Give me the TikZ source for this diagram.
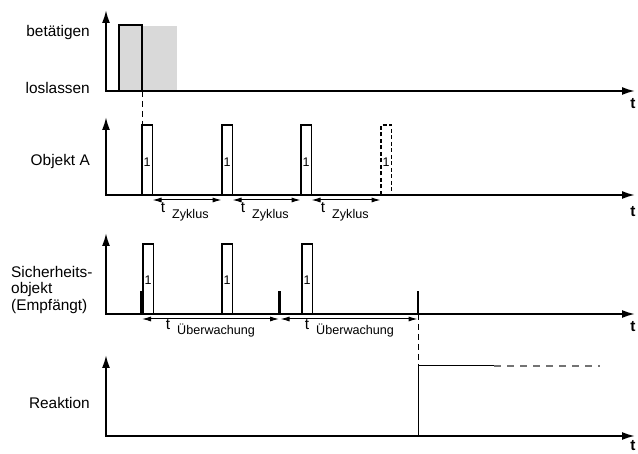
\documentclass[tikz,border=0pt]{standalone}
\usepackage{fontspec}
\setmainfont{Liberation Sans}
\usetikzlibrary{arrows.meta}
\definecolor{shadegray}{gray}{0.85}
\definecolor{dgray}{gray}{0.45}
\begin{document}
\begin{tikzpicture}[x=1pt,y=-1pt,
  axis/.style={line width=1.8pt,{Latex[length=13pt,width=8pt]}-{Latex[length=13pt,width=8pt]}},
  pulse/.style={line width=1.1pt},
  bar/.style={line width=2.8pt},
  dim/.style={line width=1pt,{Latex[length=9pt,width=5pt]}-{Latex[length=9pt,width=5pt]}},
  guide/.style={line width=1pt,dash pattern=on 6pt off 4pt},
  lbl/.style={font=\fontsize{15.4}{16.5}\selectfont,inner sep=0pt},
  tlbl/.style={font=\fontsize{15.4}{16.5}\selectfont\bfseries,inner sep=0pt},
  one/.style={font=\fontsize{12.5}{14}\selectfont,inner sep=0pt},
  tsym/.style={font=\fontsize{15.4}{16}\selectfont,inner sep=0pt,anchor=base},
  sub/.style={font=\fontsize{12.6}{14}\selectfont,inner sep=0pt,anchor=base west}]
\useasboundingbox (0,0) rectangle (638,454);

% ---------- panel 1 ----------
\fill[shadegray] (119,26) rectangle (177,91);
\draw[axis] (106,10) -- (106,91) -- (635,91);
\draw[line width=2pt] (119,91) -- (119,25) -- (142,25) -- (142,91);
\node[lbl,anchor=east] (bet) at (90,33) {betätigen};
\node[lbl,anchor=east] (los) at (90,88) {loslassen};
\node[tlbl] (t1) at (633,104) {t};

% ---------- panel 2 ----------
\draw[axis] (106,117) -- (106,195) -- (635,195);
\draw[guide] (142,91) -- (142,125);
\foreach \x/\n in {142/a,222/b,301/c}{
  \draw[pulse] (\x,195) -- (\x,125) -- (\x+10.5,125) -- (\x+10.5,195);
  \node[one] (o\n) at (\x+5,162) {1};
}
\draw[pulse,dash pattern=on 4pt off 2.5pt] (381,195) -- (381,125) -- (391.5,125) -- (391.5,195);
\node[one] (od) at (386,162) {1};
\node[lbl,anchor=east] (objA) at (90,162) {Objekt A};
\node[tlbl] (t2) at (633,212) {t};
\coordinate (z0) at (152.5,200);
\coordinate (z1) at (221.5,200);
\coordinate (z2) at (232.5,200);
\coordinate (z3) at (300.5,200);
\coordinate (z4) at (311.5,200);
\coordinate (z5) at (380.5,200);
\draw[dim] (z0) -- (z1);
\draw[dim] (z2) -- (z3);
\draw[dim] (z4) -- (z5);
\foreach \x/\n in {163/a,243/b,323/c}{
  \node[tsym] (tz\n) at (\x,213) {t};
  \node[sub] (sz\n) at (\x+9,219) {Zyklus};
}

% ---------- panel 3 ----------
\draw[axis] (106,233) -- (106,314) -- (635,314);
\foreach \x/\n in {143/a,222/b,302/c}{
  \draw[pulse] (\x,314) -- (\x,244) -- (\x+10.5,244) -- (\x+10.5,314);
  \node[one] (p\n) at (\x+5,280) {1};
}
\draw[bar] (141.5,314) -- (141.5,291);
\draw[bar] (279.5,314) -- (279.5,291);
\draw[bar] (418,314) -- (418,291);
\node[lbl,anchor=west,align=left] (sich) at (11,290) {Sicherheits-\\objekt\\(Empfängt)};
\node[tlbl] (t3) at (633,327) {t};
\coordinate (u0) at (142,319);
\coordinate (u1) at (279,319);
\coordinate (u2) at (280.5,319);
\coordinate (u3) at (417.5,319);
\draw[dim] (u0) -- (u1);
\draw[dim] (u2) -- (u3);
\node[tsym] (tua) at (168,330) {t};
\node[sub] (sua) at (177,335) {Überwachung};
\node[tsym] (tub) at (307,330) {t};
\node[sub] (sub2) at (316,335) {Überwachung};

% ---------- panel 4 ----------
\draw[axis] (106,355) -- (106,436) -- (635,436);
\draw[guide] (418,314) -- (418,366);
\draw[line width=1pt] (418,436) -- (418,366) -- (494,366);
\draw[line width=1.2pt,dgray,dash pattern=on 7pt off 6pt] (494,366) -- (600,366);
\node[lbl,anchor=east] (reak) at (90,403) {Reaktion};
\node[tlbl] (t4) at (633,446) {t};
\end{tikzpicture}
\end{document}
